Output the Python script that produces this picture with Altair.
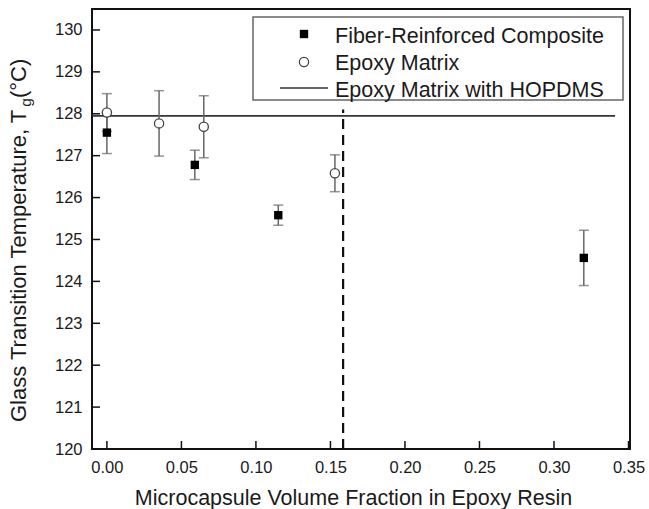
import altair as alt
import pandas as pd

# ---- data ----
fiber_x = [0.0, 0.059, 0.115, 0.320]
fiber_y = [127.55, 126.78, 125.58, 124.56]
fiber_err = [0.50, 0.35, 0.24, 0.66]

epoxy_x = [0.0, 0.035, 0.065, 0.153]
epoxy_y = [128.03, 127.77, 127.69, 126.58]
epoxy_err = [0.45, 0.78, 0.74, 0.44]

hopdms_y = 127.95
hopdms_x = [-0.01, 0.341]
critical_x = 0.1585
critical_y = [120.0, 128.1]

x_ticks = [0.0, 0.05, 0.10, 0.15, 0.20, 0.25, 0.30, 0.35]
y_ticks = [120, 121, 122, 123, 124, 125, 126, 127, 128, 129, 130]
series_names = ["Fiber-Reinforced Composite", "Epoxy Matrix", "Epoxy Matrix with HOPDMS"]
x_title = "Microcapsule Volume Fraction in Epoxy Resin"
y_title_parts = ["Glass Transition Temperature, T", "g", "\u00a0(°C)"]

# ---- layout ----
W, H = 538, 440
FONT = "Liberation Sans"
TXT = "#1a1a1a"
FS = 21.5
FSY = 22

xs = alt.Scale(domain=[-0.01, 0.351], nice=False, zero=False)
ys = alt.Scale(domain=[120, 130.5], nice=False, zero=False)

fiber = pd.DataFrame({"x": fiber_x, "y": fiber_y, "e": fiber_err})
fiber["lo"] = fiber["y"] - fiber["e"]
fiber["hi"] = fiber["y"] + fiber["e"]
epoxy = pd.DataFrame({"x": epoxy_x, "y": epoxy_y, "e": epoxy_err})
epoxy["lo"] = epoxy["y"] - epoxy["e"]
epoxy["hi"] = epoxy["y"] + epoxy["e"]

X = alt.X("x:Q", scale=xs, axis=alt.Axis(values=x_ticks, format=".2f", title=x_title,
                                          titleY=55, titleX=261, titleBaseline="alphabetic"))
Y = alt.Y("y:Q", scale=ys, axis=alt.Axis(values=y_ticks, format="d", title=None))

def errbars(df):
    base = alt.Chart(df)
    stem = base.mark_rule(color="#666", strokeWidth=1.5).encode(
        x=alt.X("x:Q", scale=xs), y=alt.Y("lo:Q", scale=ys), y2="hi:Q")
    cap_lo = base.mark_tick(color="#666", orient="horizontal", size=10, thickness=1.5).encode(
        x=alt.X("x:Q", scale=xs), y=alt.Y("lo:Q", scale=ys))
    cap_hi = base.mark_tick(color="#666", orient="horizontal", size=10, thickness=1.5).encode(
        x=alt.X("x:Q", scale=xs), y=alt.Y("hi:Q", scale=ys))
    return stem + cap_lo + cap_hi

hline = alt.Chart(pd.DataFrame({"x": [hopdms_x[0]], "x2": [hopdms_x[1]], "y": [hopdms_y]})).mark_rule(
    color="#333", strokeWidth=1.6).encode(x=X, x2="x2:Q", y=Y)

vline = alt.Chart(pd.DataFrame({"x": [critical_x], "y": [critical_y[0]], "y2": [critical_y[1]]})).mark_rule(
    color="#111", strokeWidth=2.2, strokeDash=[10, 6]).encode(x=X, y=Y, y2="y2:Q")

fiber_pts = alt.Chart(fiber).mark_point(shape="square", filled=True, color="black", size=70, opacity=1).encode(x=X, y=Y)
epoxy_pts = alt.Chart(epoxy).mark_point(shape="circle", filled=True, fill="white", stroke="#444",
                                        strokeWidth=1.3, size=85, opacity=1).encode(x=X, y=Y)

# inward ticks
yt = alt.Chart(pd.DataFrame({"y": y_ticks})).mark_rule(color="#111", strokeWidth=1.5).encode(
    y=alt.Y("y:Q", scale=ys), x=alt.value(0), x2=alt.value(8))
xt = alt.Chart(pd.DataFrame({"x": x_ticks})).mark_rule(color="#111", strokeWidth=1.5).encode(
    x=alt.X("x:Q", scale=xs), y=alt.value(H), y2=alt.value(H - 8))

# legend (pixel space)
one = pd.DataFrame({"a": [0]})
leg_box = alt.Chart(one).mark_rect(fill="white", stroke="#666", strokeWidth=1.5).encode(
    x=alt.value(161), x2=alt.value(531), y=alt.value(8), y2=alt.value(91))
leg_sq = alt.Chart(one).mark_point(shape="square", filled=True, color="black", size=70, opacity=1).encode(
    x=alt.value(212), y=alt.value(25))
leg_ci = alt.Chart(one).mark_point(shape="circle", filled=True, fill="white", stroke="#444",
                                   strokeWidth=1.3, size=85, opacity=1).encode(x=alt.value(212), y=alt.value(53))
leg_ln = alt.Chart(one).mark_rule(color="#333", strokeWidth=1.6).encode(
    x=alt.value(188), x2=alt.value(236), y=alt.value(79))
leg_txt = alt.Chart(pd.DataFrame({"t": series_names, "yy": [34.3, 61.0, 87.7]})).mark_text(
    align="left", baseline="alphabetic", font=FONT, fontSize=FS, color=TXT).encode(
    x=alt.value(243), y=alt.Y("yy:Q", scale=None), text="t:N")

# y title with subscript (rotated pieces)
w1 = 14.333 * FSY
gfs = FSY * 0.7
wg = 0.556 * gfs
y0 = 413
ytit1 = alt.Chart(one).mark_text(angle=270, align="left", baseline="alphabetic", font=FONT,
                                 fontSize=FSY, color=TXT, text=y_title_parts[0]).encode(
    x=alt.value(-66), y=alt.value(y0))
ytit2 = alt.Chart(one).mark_text(angle=270, align="left", baseline="alphabetic", font=FONT,
                                 fontSize=gfs, color=TXT, text=y_title_parts[1]).encode(
    x=alt.value(-61), y=alt.value(y0 - w1))
ytit3 = alt.Chart(one).mark_text(angle=270, align="left", baseline="alphabetic", font=FONT,
                                 fontSize=FSY, color=TXT, text=y_title_parts[2]).encode(
    x=alt.value(-66), y=alt.value(y0 - w1 - wg))

chart = alt.layer(
    hline, vline, errbars(fiber), errbars(epoxy), fiber_pts, epoxy_pts,
    yt, xt, leg_box, leg_sq, leg_ci, leg_ln, leg_txt, ytit1, ytit2, ytit3
).properties(
    width=W, height=H,
    background="white",
    autosize=alt.AutoSizeParams(type="none"),
    padding={"left": 92, "top": 9, "right": 19, "bottom": 60},
).configure_view(stroke="#111", strokeWidth=2).configure_axis(
    ticks=False, domain=False, grid=False, labelFont=FONT, labelFontSize=16.5, labelColor=TXT,
    labelPadding=10, titleFont=FONT, titleFontSize=FS, titleColor=TXT, titleFontWeight="normal"
)

chart.save("out.html", embed_options={"renderer": "svg", "actions": False})
